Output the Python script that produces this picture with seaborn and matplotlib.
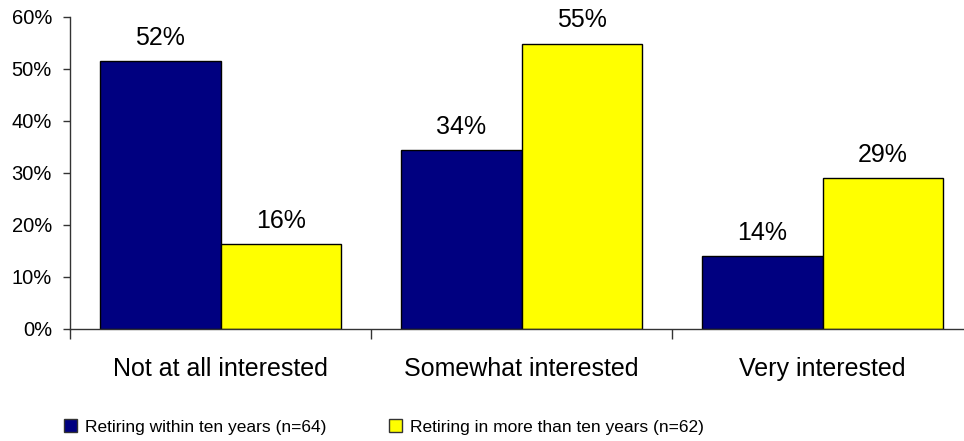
import pandas as pd
import matplotlib.pyplot as plt
import seaborn as sns
from matplotlib.patches import Patch

categories = ['Not at all interested', 'Somewhat interested', 'Very interested']
series = ['Retiring within ten years (n=64)', 'Retiring in more than ten years (n=62)']
within_ten = [51.6, 34.4, 14.1]
more_than_ten = [16.3, 54.9, 29.0]
labels_within = ['52%', '34%', '14%']
labels_more = ['16%', '55%', '29%']
colors = ['#000080', '#FFFF00']

df = pd.DataFrame({
    'category': categories * 2,
    'group': [series[0]] * 3 + [series[1]] * 3,
    'value': within_ten + more_than_ten,
})

sns.set_style('white')
plt.rcParams['font.family'] = ['Liberation Sans', 'DejaVu Sans']
plt.rcParams['text.color'] = 'black'
plt.rcParams['xtick.color'] = 'black'
plt.rcParams['ytick.color'] = 'black'

fig = plt.figure(figsize=(9.64, 4.41), dpi=100)
ax = fig.add_axes([70 / 964, 112 / 441, 903 / 964, 312 / 441])

sns.barplot(data=df, x='category', y='value', hue='group', order=categories,
            hue_order=series, palette=colors, width=0.8, edgecolor='black',
            linewidth=1, saturation=1, legend=False, ax=ax)

for container, labs in zip(ax.containers, [labels_within, labels_more]):
    ax.bar_label(container, labels=labs, padding=8, fontsize=18, color='black')

ax.set_ylim(0, 60)
ax.set_xlim(-0.5, 2.5)
ax.set_yticks(range(0, 61, 10))
ax.set_yticklabels([f'{v}%' for v in range(0, 61, 10)], fontsize=14.5)
ax.set_xticks(range(3))
ax.set_xticklabels(categories, fontsize=18)
ax.set_xticks([-0.5, 0.5, 1.5, 2.5], minor=True)
ax.tick_params(axis='x', which='major', length=0, pad=20.5)
ax.tick_params(axis='x', which='minor', length=7, width=1, color='#333333', direction='out', bottom=True)
ax.tick_params(axis='y', length=5, width=1, color='#333333', direction='out', left=True, pad=8)
ax.set_xlabel('')
ax.set_ylabel('')
sns.despine(ax=ax)
for s in ['left', 'bottom']:
    ax.spines[s].set_color('#333333')
    ax.spines[s].set_linewidth(1)

handles = [Patch(facecolor=c, edgecolor='#333333', linewidth=1) for c in colors]
fig.legend(handles, series, loc='center left', bbox_to_anchor=(64 / 964, 14 / 441),
           ncol=2, frameon=False, fontsize=12.5, handlelength=0.75, handleheight=0.75,
           handletextpad=0.45, columnspacing=3.6, borderaxespad=0, borderpad=0)

fig.savefig('out.png', dpi=100)
